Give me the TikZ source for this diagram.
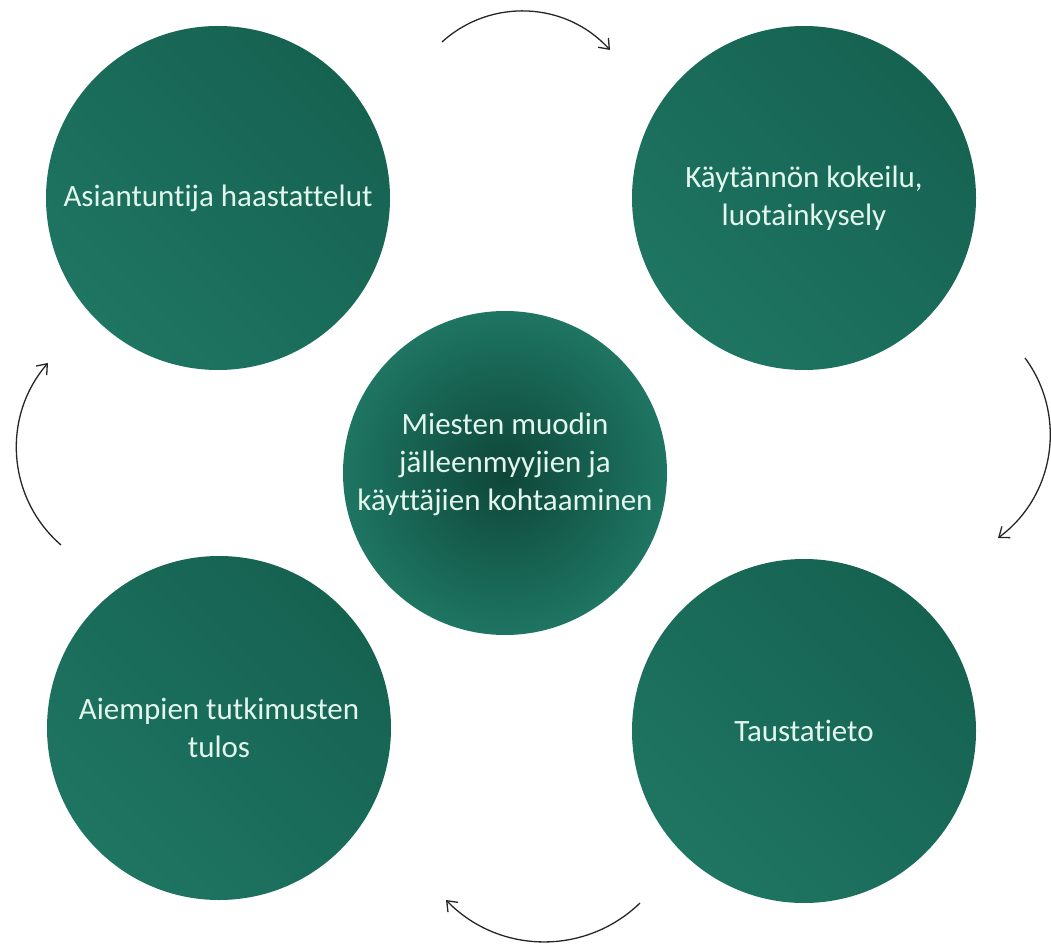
\documentclass[tikz,border=0pt]{standalone}
\usepackage{fontspec}
\setmainfont{Carlito}[Ligatures=NoCommon]
\usetikzlibrary{arrows.meta}
\definecolor{gEdge}{RGB}{30,117,98}
\definecolor{gDark}{RGB}{22,98,81}
\definecolor{gCore}{RGB}{14,70,57}
\definecolor{gText}{RGB}{226,246,238}
\tikzset{
  words/.style={align=center, text=gText, font=\fontsize{31}{38}\selectfont},
  ball/.style={words, circle, minimum size=344pt, inner sep=0pt,
    shading=axis, top color=gDark, bottom color=gEdge, shading angle=-45},
  hub/.style={ball, minimum size=324pt, shading=radial, inner color=gCore, outer color=gEdge},
  cycle/.style={-{Straight Barb[length=9pt,width=14pt]}, line width=1.3pt, black!85}
}
\begin{document}
\begin{tikzpicture}[x=1pt,y=1pt]
\useasboundingbox (0,0) rectangle (1051,946);
\node [ball] (ask) at (218,748) {Asiantuntija haastattelut};
\node [ball] (kok) at (804,748) {Käytännön kokeilu,\\luotainkysely};
\node [hub] (mid) at (505,473) {};
\node [words] (midtext) at ([yshift=9pt]mid.center) {Miesten muodin\\jälleenmyyjien ja\\käyttäjien kohtaaminen};
\node [ball] (aie) at (219,218) {Aiempien tutkimusten\\tulos};
\node [ball] (tau) at (804,215) {Taustatieto};
% arrows between the circles
\coordinate (t1) at (442,904); \coordinate (t2) at (610,896);
\coordinate (r1) at (1025,588); \coordinate (r2) at (998,408);
\coordinate (b1) at (640,43);  \coordinate (b2) at (446,46);
\coordinate (l1) at (61,401);  \coordinate (l2) at (48,583);
\draw [cycle] (t1) to[bend left=45] (t2);
\draw [cycle] (r1) to[bend left=45] (r2);
\draw [cycle] (b1) to[bend left=45] (b2);
\draw [cycle] (l1) to[bend left=45] (l2);
\end{tikzpicture}
\end{document}
